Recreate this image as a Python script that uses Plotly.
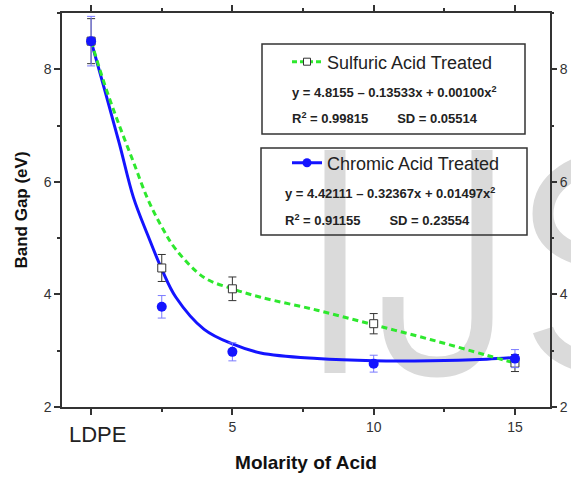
import plotly.graph_objects as go

# ---------------- data ----------------
molarity = [0, 2.5, 5, 10, 15]
sulfuric_gap = [8.5, 4.47, 4.1, 3.48, 2.78]
sulfuric_err = [0.4, 0.24, 0.21, 0.18, 0.15]
chromic_gap = [8.5, 3.78, 2.98, 2.77, 2.86]
chromic_err = [0.44, 0.2, 0.16, 0.15, 0.16]

curve_x = [0, 0.5, 1, 1.5, 2, 2.5, 3, 4, 5, 6, 8, 10, 12, 14, 15]
sulfuric_curve = [8.5, 7.7, 7.0, 6.35, 5.7, 5.2, 4.8, 4.3, 4.1, 3.95, 3.72, 3.46, 3.2, 2.92, 2.78]
chromic_curve = [8.5, 7.6, 6.68, 5.72, 5.06, 4.45, 3.95, 3.38, 3.12, 2.96, 2.86, 2.82, 2.82, 2.85, 2.88]

x_tickvals = [0, 5, 10, 15]
x_ticktext = ["LDPE", "5", "10", "15"]
x_minor = [2.5, 7.5, 12.5]
y_tickvals = [2, 4, 6, 8]

series_names = ["Sulfuric Acid Treated", "Chromic Acid Treated"]
GAP = "\u00a0" * 8
eq_sulfuric = ["y = 4.8155 \u2013 0.13533x + 0.00100x<sup>2</sup>",
               "R<sup>2</sup> = 0.99815" + GAP + "SD = 0.05514"]
eq_chromic = ["y = 4.42111 \u2013 0.32367x + 0.01497x<sup>2</sup>",
              "R<sup>2</sup> = 0.91155" + GAP + "SD = 0.23554"]

# ---------------- styling ----------------
FONT = "Liberation Sans, Arial, sans-serif"
GREEN = "#2ee82e"
BLUE = "#1414ff"
AX = "#333333"
WM = "#dadada"

L, R, T, B = 62, 550, 13, 407
W, H = 571, 477


def px(x):
    return (x - L) / (R - L)


def py(y):
    return (B - y) / (B - T)


def path(cmds):
    """cmds: list of (letter, [x1, y1, x2, y2, ...]) in page pixels -> paper path"""
    out = []
    for c, pts in cmds:
        coords = []
        for i in range(0, len(pts), 2):
            coords.append("%.5f,%.5f" % (px(pts[i]), py(pts[i + 1])))
        out.append(c + " ".join(coords))
    return " ".join(out)


fig = go.Figure()

# fitted / smoothed curves
fig.add_trace(go.Scatter(x=curve_x, y=chromic_curve, mode="lines", line=dict(color=BLUE, width=3, shape="spline"),
                         showlegend=False, hoverinfo="skip"))
fig.add_trace(go.Scatter(x=curve_x, y=sulfuric_curve, mode="lines",
                         line=dict(color=GREEN, width=3, dash="6px,4px", shape="spline"),
                         showlegend=False, hoverinfo="skip"))

# measured points
fig.add_trace(go.Scatter(x=molarity, y=sulfuric_gap, mode="markers",
                         marker=dict(symbol="square", size=8, color="white", line=dict(color=AX, width=1)),
                         error_y=dict(type="data", array=sulfuric_err, color=AX, thickness=1, width=4),
                         showlegend=False))
fig.add_trace(go.Scatter(x=molarity, y=chromic_gap, mode="markers",
                         marker=dict(symbol="circle", size=10, color=BLUE),
                         error_y=dict(type="data", array=chromic_err, color="#7a7aff", thickness=1, width=4),
                         showlegend=False))

# legend entries (line + marker samples)
fig.add_trace(go.Scatter(x=[None], y=[None], mode="lines+markers", name=series_names[0],
                         line=dict(color=GREEN, width=3, dash="5px,3px"),
                         marker=dict(symbol="square", size=7, color="white", line=dict(color=AX, width=1)),
                         legend="legend", yaxis="y2"))
fig.add_trace(go.Scatter(x=[None], y=[None], mode="lines+markers", name=series_names[1],
                         line=dict(color=BLUE, width=3),
                         marker=dict(symbol="circle", size=9, color=BLUE),
                         legend="legend2", yaxis="y2"))

shapes = []
# faint "IJS" watermark behind the plot (drawn as strokes)
wm_line = dict(color=WM, width=21)
shapes.append(dict(type="path", xref="paper", yref="paper", layer="below", line=wm_line,
                   path=path([("M", [335, 150]), ("L", [335, 373])])))
shapes.append(dict(type="path", xref="paper", yref="paper", layer="below", line=wm_line,
                   path=path([("M", [482, 150]), ("L", [482, 318]),
                              ("Q", [482, 367, 437, 367]), ("Q", [393, 367, 393, 318]),
                              ("L", [393, 297])])))
shapes.append(dict(type="path", xref="paper", yref="paper", layer="below", line=wm_line,
                   path=path([("M", [697, 195]),
                              ("C", [685, 168, 655, 160, 623, 160]),
                              ("C", [575, 160, 543, 182, 543, 214]),
                              ("C", [543, 248, 578, 257, 623, 265]),
                              ("C", [672, 273, 703, 290, 703, 320]),
                              ("C", [703, 352, 670, 367, 623, 367]),
                              ("C", [580, 367, 550, 352, 543, 330])])))
# legend boxes
for (x0, x1, y0, y1) in [(262, 525, 44, 134), (261, 527, 148, 235)]:
    shapes.append(dict(type="rect", xref="paper", yref="paper",
                       x0=px(x0), x1=px(x1), y0=py(y1), y1=py(y0),
                       line=dict(color=AX, width=1.5), fillcolor="rgba(0,0,0,0)", layer="above"))

annotations = []
for text, x, y in [(eq_sulfuric[0], 290, 92), (eq_sulfuric[1], 290, 118),
                   (eq_chromic[0], 283, 193), (eq_chromic[1], 283, 220)]:
    annotations.append(dict(text="<b>" + text + "</b>", xref="paper", yref="paper",
                            x=px(x), y=py(y), xanchor="left", yanchor="middle", showarrow=False,
                            font=dict(family=FONT, size=13, color="#222222")))
# the first category label is drawn larger than the numeric ticks
annotations.append(dict(text=x_ticktext[0], xref="x", yref="paper", x=x_tickvals[0], y=py(434),
                        xanchor="center", yanchor="middle", xshift=6, showarrow=False,
                        font=dict(family=FONT, size=22, color="#222222")))

fig.update_layout(
    width=W, height=H, autosize=False,
    margin=dict(l=L, r=W - R, t=T, b=H - B, pad=0, autoexpand=False),
    paper_bgcolor="white", plot_bgcolor="rgba(0,0,0,0)",
    font=dict(family=FONT, size=14, color=AX),
    xaxis=dict(range=[-1.03, 16.24], tickmode="array", tickvals=x_tickvals,
               ticktext=[""] + x_ticktext[1:],
               ticks="outside", ticklen=6, tickwidth=1.5, tickcolor=AX, automargin=False,
               showline=True, linecolor=AX, linewidth=1.5, mirror="ticks",
               showgrid=False, zeroline=False,
               minor=dict(tickmode="array", tickvals=x_minor, ticks="outside", ticklen=3, tickwidth=1.5,
                          tickcolor=AX, showgrid=False),
               title=dict(text="<b>Molarity of Acid</b>", font=dict(size=19, color="#111111"), standoff=22),
               tickfont=dict(size=14)),
    yaxis=dict(range=[2, 9], tickmode="array", tickvals=y_tickvals, automargin=False,
               ticks="outside", ticklen=6, tickwidth=1.5, tickcolor=AX,
               showline=True, linecolor=AX, linewidth=1.5, mirror=True,
               showgrid=False, zeroline=False,
               minor=dict(dtick=1, tick0=2, ticks="outside", ticklen=3, tickwidth=1.5, tickcolor=AX,
                          showgrid=False),
               title=dict(text="<b>Band Gap (eV)</b>", font=dict(size=17, color="#111111"), standoff=12),
               tickfont=dict(size=14)),
    yaxis2=dict(overlaying="y", side="right", matches="y", range=[2, 9], tickmode="array", automargin=False,
                tickvals=y_tickvals, ticks="outside", ticklen=6, tickwidth=1.5, tickcolor=AX,
                showline=False, showgrid=False, zeroline=False,
                minor=dict(dtick=1, tick0=2, ticks="outside", ticklen=3, tickwidth=1.5, tickcolor=AX,
                           showgrid=False),
                tickfont=dict(size=14)),
    legend=dict(x=px(287), y=py(62), xanchor="left", yanchor="middle", bgcolor="rgba(0,0,0,0)",
                borderwidth=0, font=dict(size=18, family=FONT, color="#222222")),
    legend2=dict(x=px(287), y=py(163), xanchor="left", yanchor="middle", bgcolor="rgba(0,0,0,0)",
                 borderwidth=0, font=dict(size=18, family=FONT, color="#222222")),
    shapes=shapes,
    annotations=annotations,
)

fig.write_html("out.html", config={"displayModeBar": False},
               post_script="document.body.style.margin='0px';")
